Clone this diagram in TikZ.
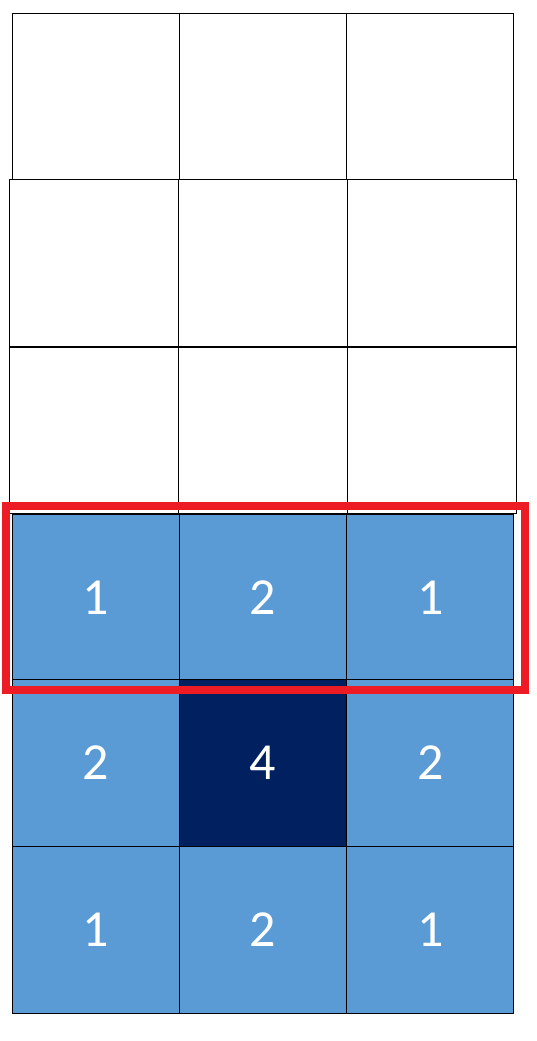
\documentclass[tikz,border=0pt]{standalone}
\usepackage{fontspec}
\setmainfont{Carlito}
\usetikzlibrary{positioning}
\definecolor{cellblue}{HTML}{5B9BD5}
\definecolor{cellnavy}{HTML}{002060}
\definecolor{boxred}{HTML}{ED1C24}
\tikzset{
  cell/.style={draw=black, line width=1pt, minimum width=167.3pt, minimum height=166.5pt,
    inner sep=0pt, outer sep=0pt, text=white, font=\fontsize{52}{52}\selectfont},
  wide/.style={minimum width=169pt},
  weight/.style={cell, fill=cellblue},
  centre/.style={cell, fill=cellnavy}
}

\begin{document}
\begin{tikzpicture}[x=1pt,y=-1pt]
\useasboundingbox (0,0) rectangle (537,1041);
% image rows
\node[cell] (a1) at (95.7,96.5) {};
\node[cell, right=0pt of a1] (a2) {};
\node[cell, right=0pt of a2] (a3) {};
\node[cell, wide] (b1) at (93.5,263) {};
\node[cell, wide, right=0pt of b1] (b2) {};
\node[cell, wide, right=0pt of b2] (b3) {};
\node[cell, wide] (c1) at (93.5,430.5) {};
\node[cell, wide, right=0pt of c1] (c2) {};
\node[cell, wide, right=0pt of c2] (c3) {};
% kernel rows
\node[weight] (k11) at (95.7,598) {1};
\node[weight, right=0pt of k11] (k12) {2};
\node[weight, right=0pt of k12] (k13) {1};
\node[weight] (k21) at (95.7,763) {2};
\node[centre, right=0pt of k21] (k22) {4};
\node[weight, right=0pt of k22] (k23) {2};
\node[weight] (k31) at (95.7,930) {1};
\node[weight, right=0pt of k31] (k32) {2};
\node[weight, right=0pt of k32] (k33) {1};
% highlight
\draw[boxred, line width=8pt] (5.5,506) rectangle (525,689.5);
\end{tikzpicture}
\end{document}
